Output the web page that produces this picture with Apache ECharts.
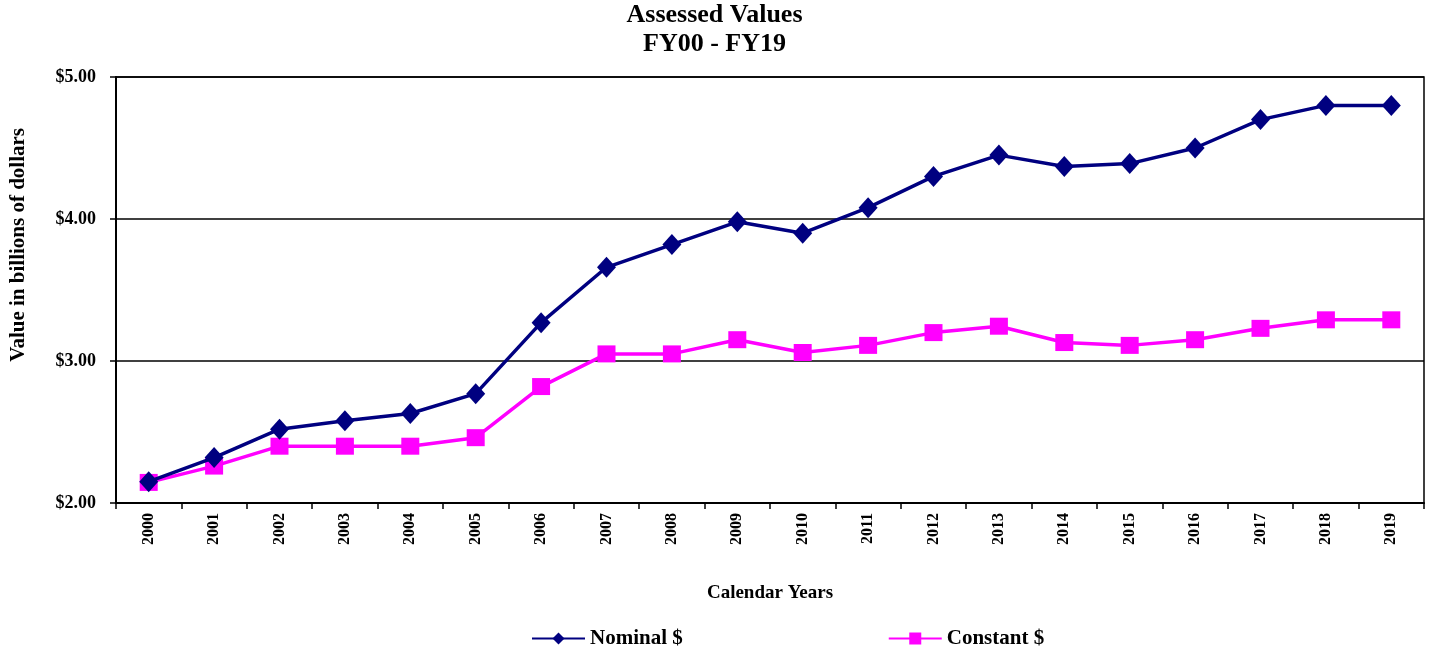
<!DOCTYPE html>
<html><head><meta charset="utf-8">
<script src="https://cdn.jsdelivr.net/npm/echarts@6/dist/echarts.min.js"></script>
<style>html,body{margin:0;padding:0;background:#fff}#c{width:1429px;height:655px}</style>
</head><body><div id="c"></div>
<script>
const years = ['2000','2001','2002','2003','2004','2005','2006','2007','2008','2009','2010','2011','2012','2013','2014','2015','2016','2017','2018','2019'];
const nominal = [2.15,2.32,2.52,2.58,2.63,2.77,3.27,3.66,3.82,3.98,3.90,4.08,4.30,4.45,4.37,4.39,4.50,4.70,4.80,4.80];
const constant = [2.145,2.26,2.40,2.40,2.40,2.46,2.82,3.05,3.05,3.15,3.06,3.11,3.20,3.245,3.13,3.11,3.15,3.23,3.29,3.29];
const yTicks = [2,3,4,5];
const F = '"Liberation Serif","Times New Roman",serif';
const chart = echarts.init(document.getElementById('c'));
chart.setOption({
  animation:false,
  backgroundColor:'#fff',
  title:{text:'Assessed Values\nFY00 - FY19',left:'center',top:-4,
    textStyle:{fontFamily:F,fontWeight:'bold',fontSize:26,color:'#000',lineHeight:29}},
  grid:{left:116,right:5,top:77,bottom:152,show:true,borderColor:'#000',borderWidth:1.5},
  legend:{bottom:1,left:526,itemGap:205,itemWidth:53,itemHeight:15,
    textStyle:{fontFamily:F,fontWeight:'bold',fontSize:21,color:'#000'},
    data:['Nominal $','Constant $']},
  graphic:[{type:'text',left:8,top:128,rotation:Math.PI/2,
    style:{text:'Value in billions of dollars',font:'bold 21px '+F,fill:'#000'}}],
  xAxis:{type:'category',data:years,boundaryGap:true,
    name:'Calendar Years',nameLocation:'middle',nameGap:81,
    nameTextStyle:{fontFamily:F,fontWeight:'bold',fontSize:19,color:'#000'},
    axisLine:{lineStyle:{color:'#000',width:2}},
    axisTick:{show:true,length:6,lineStyle:{color:'#000',width:1.5}},
    axisLabel:{rotate:90,fontFamily:F,fontWeight:'bold',fontSize:16,color:'#000',margin:10}},
  yAxis:{type:'value',min:2,max:5,interval:1,
    axisLine:{show:true,lineStyle:{color:'#000',width:2}},
    axisTick:{show:true,length:6,lineStyle:{color:'#000',width:1.5}},
    splitLine:{lineStyle:{color:'#000',width:1.5}},
    axisLabel:{fontFamily:F,fontWeight:'bold',fontSize:18,color:'#000',margin:20,
      formatter:v=>'$'+v.toFixed(2)}},
  series:[
    {name:'Nominal $',type:'line',data:nominal,symbol:'diamond',symbolSize:[19,21],
      itemStyle:{color:'#000080'},lineStyle:{color:'#000080',width:3.5},z:3},
    {name:'Constant $',type:'line',data:constant,symbol:'rect',symbolSize:[18,17],
      itemStyle:{color:'#ff00ff'},lineStyle:{color:'#ff00ff',width:3.5},z:2}
  ]
});
</script></body></html>
